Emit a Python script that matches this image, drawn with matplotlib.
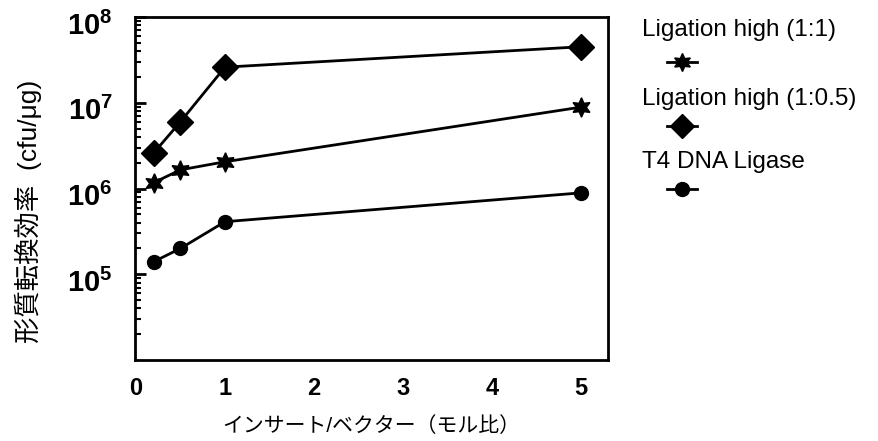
import matplotlib
matplotlib.use("Agg")
import matplotlib.pyplot as plt
import matplotlib.transforms as mtransforms
from matplotlib.lines import Line2D
from matplotlib.ticker import LogLocator, NullFormatter, FixedLocator

plt.rcParams['font.family'] = ['Liberation Sans', 'Noto Sans CJK JP', 'DejaVu Sans']
plt.rcParams['mathtext.fontset'] = 'custom'
plt.rcParams['mathtext.rm'] = 'Liberation Sans'
plt.rcParams['mathtext.it'] = 'Liberation Sans'
plt.rcParams['mathtext.bf'] = 'Liberation Sans:bold'

ratio = [0.2, 0.5, 1, 5]
high_1_1 = [1.17e6, 1.65e6, 2.05e6, 8.9e6]
high_1_05 = [2.6e6, 6.0e6, 2.6e7, 4.5e7]
t4_ligase = [1.4e5, 2.0e5, 4.1e5, 8.9e5]

labels = ["Ligation high (1:1)", "Ligation high (1:0.5)", "T4 DNA Ligase"]
ytick_vals = [1e5, 1e6, 1e7, 1e8]
ytick_labels = [r'$\mathbf{10^{5}}$', r'$\mathbf{10^{6}}$', r'$\mathbf{10^{7}}$', r'$\mathbf{10^{8}}$']
star = (6, 1, 0)

fig = plt.figure(figsize=(8.79, 4.41), dpi=100)
ax = fig.add_axes([135 / 879, 1 - 360 / 441, (608 - 135) / 879, (360 - 17) / 441])

ax.plot(ratio, high_1_05, color='black', lw=2, marker='D', ms=13, zorder=3)
ax.plot(ratio, high_1_1, color='black', lw=2, marker=star, ms=14, zorder=3)
ax.plot(ratio, t4_ligase, color='black', lw=2, marker='o', ms=10, zorder=3)

ax.set_yscale('log')
ax.set_ylim(1e4, 1e8)
ax.set_xlim(-0.01, 5.3)
ax.yaxis.set_major_locator(FixedLocator(ytick_vals))
ax.yaxis.set_minor_locator(LogLocator(base=10, subs=range(2, 10)))
ax.yaxis.set_minor_formatter(NullFormatter())
ax.set_yticklabels(ytick_labels)
ax.set_xticks([0, 1, 2, 3, 4, 5])
ax.tick_params(axis='y', which='major', direction='in', length=8, width=2, labelsize=21, pad=16)
ax.tick_params(axis='y', which='minor', direction='in', length=4, width=1.5)
ax.tick_params(axis='x', direction='in', length=0, labelsize=17, pad=12)
shift = mtransforms.ScaledTranslation(0, -6 / 100, fig.dpi_scale_trans)
for t in ax.get_yticklabels():
    t.set_transform(t.get_transform() + shift)
for t in ax.get_xticklabels():
    t.set_fontweight('bold')
for s in ax.spines.values():
    s.set_linewidth(2)

ax.set_xlabel('インサート/ベクター（モル比）', fontsize=15, labelpad=12)
ax.set_ylabel('形質転換効率  (cfu/μg)', fontsize=19)
ax.yaxis.set_label_coords(-0.197, 0.434)

# legend: text above marker
markers = [star, 'D', 'o']
sizes = [13, 12, 10]
text_y = [30, 99, 162]
mark_y = [62, 126, 189]
for lab, m, sz, ty, my in zip(labels, markers, sizes, text_y, mark_y):
    fig.text(642 / 879, 1 - ty / 441, lab, fontsize=17.5, va='center', ha='left')
    fig.add_artist(Line2D([667 / 879, 682 / 879, 697 / 879], [1 - my / 441] * 3, color='black', lw=2,
                          marker=m, ms=sz, markevery=[1], transform=fig.transFigure))

fig.savefig('out.png', dpi=100)
